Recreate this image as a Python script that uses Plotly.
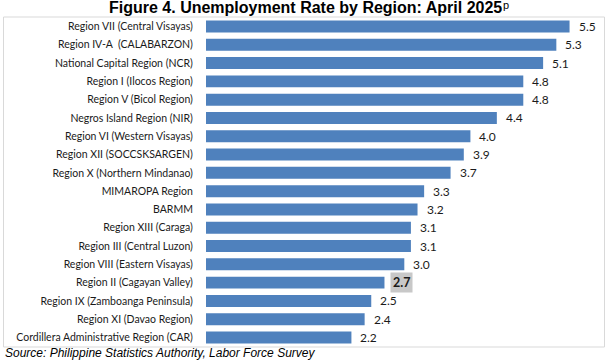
import plotly.graph_objects as go

regions = [
    "Region VII (Central Visayas)",
    "Region IV-A  (CALABARZON)",
    "National Capital Region (NCR)",
    "Region I (Ilocos Region)",
    "Region V (Bicol Region)",
    "Negros Island Region (NIR)",
    "Region VI (Western Visayas)",
    "Region XII (SOCCSKSARGEN)",
    "Region X (Northern Mindanao)",
    "MIMAROPA Region",
    "BARMM",
    "Region XIII (Caraga)",
    "Region III (Central Luzon)",
    "Region VIII (Eastern Visayas)",
    "Region II (Cagayan Valley)",
    "Region IX (Zamboanga Peninsula)",
    "Region XI (Davao Region)",
    "Cordillera Administrative Region (CAR)",
]
rates = [5.5, 5.3, 5.1, 4.8, 4.8, 4.4, 4.0, 3.9, 3.7, 3.3, 3.2, 3.1, 3.1, 3.0, 2.7, 2.5, 2.4, 2.2]
highlight = "Region II (Cagayan Valley)"

title_text = "<b>Figure 4. Unemployment Rate by Region: April 2025</b>"
title_mark = "p"
source_text = "Source: Philippine Statistics Authority, Labor Force Survey"

W, H = 606, 361
ML, MR, MT, MB = 206, 10, 17, 14
PW = W - ML - MR
PH = H - MT - MB

label_font = "Lato, Carlito, Calibri, sans-serif"

fig = go.Figure(go.Bar(
    x=rates, y=regions, orientation="h",
    marker=dict(color="#4F81BD", line=dict(width=0)),
    hoverinfo="x+y",
))

annotations = []
for r, v in zip(regions, rates):
    if r == highlight:
        annotations.append(dict(
            x=v, y=r, xref="x", yref="y", text="<b>%.1f</b>" % v,
            showarrow=False, xanchor="left", yanchor="middle", xshift=6,
            font=dict(family=label_font, size=12.5, color="#1a1a1a"),
            bgcolor="#C8C8C8", borderpad=2,
        ))
    else:
        annotations.append(dict(
            x=v, y=r, xref="x", yref="y", text="%.1f" % v,
            showarrow=False, xanchor="left", yanchor="middle", xshift=7,
            font=dict(family=label_font, size=12, color="#1a1a1a"),
        ))

annotations.append(dict(
    x=(504 - ML) / PW, y=1 + (MT - 7.5) / PH, xref="paper", yref="paper",
    text=title_text, showarrow=False, xanchor="right", yanchor="middle",
    font=dict(family="Liberation Sans, Arial, sans-serif", size=16, color="#000000"),
))
annotations.append(dict(
    x=(502 - ML) / PW, y=1 + (MT - 5.5) / PH, xref="paper", yref="paper",
    text=title_mark, showarrow=False, xanchor="left", yanchor="middle",
    font=dict(family="Liberation Sans, Arial, sans-serif", size=11, color="#000000"),
    borderpad=0,
))
annotations.append(dict(
    x=(3 - ML) / PW, y=-(353 - (H - MB)) / PH, xref="paper", yref="paper",
    text="<i>" + source_text + "</i>", showarrow=False, xanchor="left", yanchor="middle",
    font=dict(family="Liberation Sans, Arial, sans-serif", size=12, color="#000000"),
))

fig.update_layout(
    width=W, height=H,
    margin=dict(l=ML, r=MR, t=MT, b=MB, pad=0),
    paper_bgcolor="white", plot_bgcolor="white",
    bargap=0.345,
    showlegend=False,
    annotations=annotations,
    shapes=[dict(
        type="rect", xref="paper", yref="paper",
        x0=(3.5 - ML) / PW, x1=(604.5 - ML) / PW, y0=0, y1=1,
        line=dict(color="#D9D9D9", width=1), fillcolor="rgba(0,0,0,0)", layer="below",
    )],
    xaxis=dict(range=[0, 5.9], visible=False, fixedrange=True),
    yaxis=dict(
        autorange="reversed", showgrid=False, zeroline=False, showline=False,
        ticks="outside", ticklen=10, tickcolor="rgba(0,0,0,0)",
        tickfont=dict(family=label_font, size=10.5, color="#1a1a1a"),
        fixedrange=True,
    ),
)

fig.write_html(
    "out.html",
    config={"displayModeBar": False},
    post_script="document.body.style.margin='0px';document.body.style.overflow='hidden';",
)
